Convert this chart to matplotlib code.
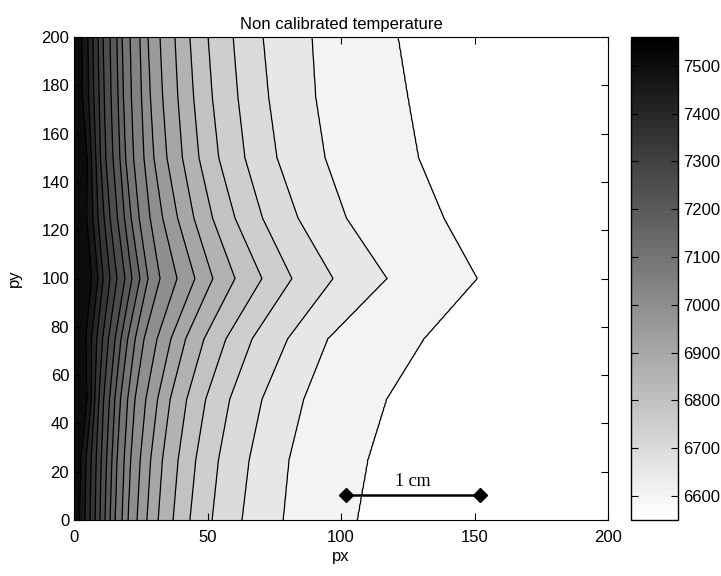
import matplotlib.pyplot as plt
import matplotlib.colors as mcolors
import matplotlib.cm as cm
import numpy as np

# contour levels (temperature) and rows (py) where the contour crossings were read
levels = [6600, 6650, 6700, 6750, 6800, 6850, 6900, 6950, 7000, 7050,
          7100, 7150, 7200, 7250, 7300, 7350, 7400, 7450, 7500]
rows_py = [0, 25, 50, 75, 100, 125, 150, 175, 200]

# px position of each contour level (same order as levels) on every row
cross_px = [
    [106.0, 78.3, 62.9, 51.7, 43.4, 37.1, 31.5, 27.3, 23.6, 20.2, 18.0, 15.4, 13.5, 11.6, 9.7, 7.9, 6.0, 4.1, 2.2],
    [110.0, 80.5, 65.6, 54.1, 45.6, 39.0, 33.1, 28.7, 24.8, 21.2, 18.8, 16.1, 14.2, 12.2, 10.2, 8.3, 6.4, 4.5, 2.6],
    [117.0, 86.0, 70.4, 58.3, 49.3, 42.2, 36.0, 31.3, 26.9, 22.8, 20.1, 17.4, 15.3, 13.3, 11.1, 9.3, 7.8, 6.5, 5.0],
    [131.0, 95.0, 80.0, 66.7, 56.9, 48.7, 41.8, 36.3, 31.1, 26.2, 22.9, 20.1, 17.6, 15.4, 12.9, 10.7, 8.5, 6.6, 4.5],
    [151.0, 117.2, 97.0, 81.6, 70.4, 60.3, 52.0, 45.3, 38.6, 32.2, 27.7, 24.7, 21.7, 19.1, 16.1, 13.5, 10.9, 9.0, 6.7],
    [138.5, 102.0, 83.9, 70.6, 60.3, 51.9, 44.9, 38.8, 33.2, 28.5, 24.4, 21.4, 18.9, 16.3, 13.5, 11.3, 9.0, 7.1, 4.9],
    [129.0, 94.0, 76.0, 64.0, 54.2, 46.8, 40.6, 34.8, 29.9, 26.2, 22.3, 19.3, 17.2, 14.6, 11.9, 9.9, 8.2, 6.5, 5.0],
    [125.0, 90.5, 72.9, 61.4, 51.8, 44.8, 38.9, 33.2, 28.6, 25.3, 21.5, 18.5, 16.5, 13.9, 11.3, 9.4, 7.4, 5.5, 3.3],
    [121.3, 89.1, 70.8, 59.6, 50.2, 43.4, 37.8, 32.2, 27.7, 24.7, 21.0, 18.0, 16.1, 13.5, 10.9, 9.0, 7.1, 5.2, 3.0],
]
# temperature at px = 0 and px = 200 on every row
left_temp = [7520, 7530, 7545, 7530, 7545, 7530, 7545, 7525, 7515]
right_temp = [6565, 6565, 6565, 6565, 6565, 6565, 6565, 6565, 6565]

cbar_ticks = [6600, 6700, 6800, 6900, 7000, 7100, 7200, 7300, 7400, 7500]
scale_px = [102, 152]
scale_py = [10.5, 10.5]

tmin, tmax = 6550, 7560

# temperature field: contour lines run straight between the read rows,
# along each line of the grid the temperature follows the crossings
cross = np.array(cross_px)
px = np.linspace(0, 200, 401)
py = np.linspace(0, 200, 401)
T = np.zeros((len(py), len(px)))
for j, yv in enumerate(py):
    xs = [np.interp(yv, rows_py, cross[:, k]) for k in range(len(levels))]
    t0 = np.interp(yv, rows_py, left_temp)
    t1 = np.interp(yv, rows_py, right_temp)
    T[j] = np.interp(px, [0] + xs[::-1] + [200], [t0] + levels[::-1] + [t1])

plt.rcParams['font.family'] = ['Liberation Sans', 'DejaVu Sans']
fig = plt.figure(figsize=(7.21, 5.76), dpi=100)
ax = fig.add_axes([74 / 721, 56 / 576, 534 / 721, 483 / 576])
cax = fig.add_axes([631 / 721, 56 / 576, 47 / 721, 483 / 576])

cmap = plt.get_cmap('gray_r', 64)
norm = mcolors.Normalize(tmin, tmax)
fill_levels = [6550] + levels + [7600]
band_colors = [cmap(norm(v)) for v in fill_levels[:-1]]

ax.contourf(px, py, T, levels=fill_levels, colors=band_colors)
ax.contour(px, py, T, levels=levels + [7550], colors='k', linewidths=0.9)

ax.plot(scale_px, scale_py, color='k', lw=1.8, marker='D', ms=7)
ax.text(np.mean(scale_px), 12.3, '1 cm', ha='center', va='bottom',
        family='Liberation Serif', fontsize=13)

ax.set_xlim(0, 200)
ax.set_ylim(0, 200)
ax.set_xticks([0, 50, 100, 150, 200])
ax.set_yticks(np.arange(0, 201, 20))
ax.tick_params(direction='in', top=True, right=True, length=5, labelsize=12)
ax.tick_params(axis='x', pad=7)
ax.set_title('Non calibrated temperature', fontsize=12, pad=6)
ax.set_xlabel('px', fontsize=12, labelpad=3)
ax.set_ylabel('py', fontsize=12, labelpad=14)

sm = cm.ScalarMappable(norm=norm, cmap=cmap)
cb = fig.colorbar(sm, cax=cax)
cb.set_ticks(cbar_ticks)
cax.tick_params(direction='in', left=True, right=True, length=5, labelsize=12)
cb.outline.set_linewidth(1)

plt.savefig('out.png', dpi=100)
